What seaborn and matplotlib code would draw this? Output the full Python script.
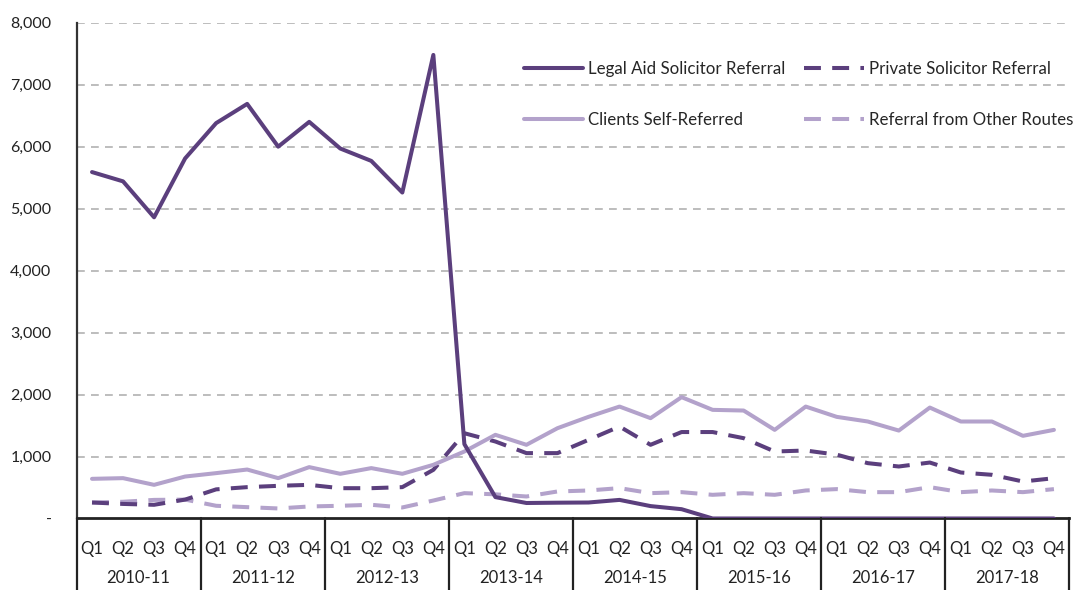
import matplotlib
matplotlib.use("Agg")
import matplotlib.pyplot as plt
import matplotlib.transforms as mtransforms
import numpy as np
import pandas as pd
import seaborn as sns

# Financial years and quarters
years = ["2010-11", "2011-12", "2012-13", "2013-14",
         "2014-15", "2015-16", "2016-17", "2017-18"]
quarters = ["Q1", "Q2", "Q3", "Q4"]

# Referrals per quarter, by route
legal_aid = [5590, 5440, 4860, 5810, 6380, 6690, 6000, 6400,
             5970, 5770, 5260, 7480, 1200, 345, 250, 255,
             258, 300, 200, 150, 0, 0, 0, 0,
             0, 0, 0, 0, 0, 0, 0, 0]
private = [258, 235, 221, 305, 470, 506, 527, 543,
           489, 489, 506, 785, 1376, 1242, 1055, 1055,
           1269, 1484, 1189, 1395, 1395, 1296, 1081, 1097,
           1030, 893, 839, 903, 742, 705, 597, 650]
self_referred = [640, 651, 543, 677, 732, 790, 651, 829,
                 721, 813, 721, 866, 1081, 1350, 1189, 1457,
                 1640, 1806, 1619, 1958, 1753, 1742, 1430, 1806,
                 1640, 1565, 1419, 1790, 1565, 1565, 1334, 1430]
other_routes = [258, 270, 300, 305, 205, 183, 162, 194,
                205, 221, 178, 290, 409, 390, 355, 436,
                452, 490, 409, 425, 382, 409, 382, 452,
                474, 425, 425, 506, 425, 452, 425, 474]

yticks = [0, 1000, 2000, 3000, 4000, 5000, 6000, 7000, 8000]
ytick_labels = ["-", "1,000", "2,000", "3,000", "4,000",
                "5,000", "6,000", "7,000", "8,000"]

DARK = "#5b3f7d"
LIGHT = "#b3a2cb"

sns.set_theme(style="white")
plt.rcParams["font.family"] = ["Lato", "DejaVu Sans"]

n = len(years) * len(quarters)
df = pd.DataFrame({
    "idx": np.arange(n),
    "Legal Aid Solicitor Referral": legal_aid,
    "Private Solicitor Referral": private,
    "Clients Self-Referred": self_referred,
    "Referral from Other Routes": other_routes,
})

fig = plt.figure(figsize=(10.73, 5.90), dpi=100)
ax = fig.add_axes([0.0713, 0.1212, 0.9254, 0.8403])

dash = (0, (4.2, 2.8))
styles = {
    "Legal Aid Solicitor Referral": (DARK, "-"),
    "Private Solicitor Referral": (DARK, dash),
    "Clients Self-Referred": (LIGHT, "-"),
    "Referral from Other Routes": (LIGHT, dash),
}
draw_order = ["Referral from Other Routes", "Private Solicitor Referral",
              "Clients Self-Referred", "Legal Aid Solicitor Referral"]
lines = {}
for name in draw_order:
    color, ls = styles[name]
    sns.lineplot(data=df, x="idx", y=name, ax=ax, color=color,
                 linewidth=2.9, label=name, zorder=3)
    ln = ax.get_lines()[-1]
    ln.set_linestyle(ls)
    ln.set_solid_capstyle("round")
    ln.set_dash_capstyle("butt")
    ln.set_solid_joinstyle("round")
    lines[name] = ln

ax.set_xlim(-0.5, n - 0.5)
ax.set_ylim(0, 8000)
ax.set_xlabel("")
ax.set_ylabel("")

# y axis
ax.set_yticks(yticks)
ax.set_yticklabels(ytick_labels, fontsize=11.5, color="#222222")
ax.tick_params(axis="y", length=0, pad=18)
for y in yticks[1:]:
    ax.axhline(y, color="#bdbdbd", lw=1.4, ls=(0, (4, 3.2)), zorder=1)

# quarter labels
ax.set_xticks(np.arange(n))
ax.set_xticklabels(quarters * len(years), fontsize=12, color="#222222")
ax.tick_params(axis="x", length=0, pad=16)

for side in ["top", "right"]:
    ax.spines[side].set_visible(False)
ax.spines["left"].set_color("#333333")
ax.spines["left"].set_linewidth(1.6)
ax.spines["bottom"].set_color("#222222")
ax.spines["bottom"].set_linewidth(2.0)

# category table below the axis: group separators and year labels
trans = mtransforms.blended_transform_factory(ax.transData, ax.transAxes)
bottom = -0.16
for k in range(len(years) + 1):
    xpos = k * 4 - 0.5
    ax.plot([xpos, xpos], [0, bottom], transform=trans, color="#222222",
            lw=1.6, clip_on=False, zorder=4)
for k, yr in enumerate(years):
    ax.text(k * 4 + 1.5, -0.12, yr, transform=trans, ha="center",
            va="center", fontsize=12, color="#222222")

# legend, two columns read row-wise
labels = ["Legal Aid Solicitor Referral", "Clients Self-Referred",
          "Private Solicitor Referral", "Referral from Other Routes"]
ax.legend([lines[k] for k in labels], labels,
          ncol=2, frameon=False, fontsize=12.2,
          loc="upper left", bbox_to_anchor=(0.4884, 0.897),
          bbox_transform=fig.transFigure,
          handlelength=3.5, handletextpad=0.3, columnspacing=1.1,
          labelspacing=2.1, borderaxespad=0, borderpad=0)

fig.savefig("out.png", dpi=100, facecolor="white")
